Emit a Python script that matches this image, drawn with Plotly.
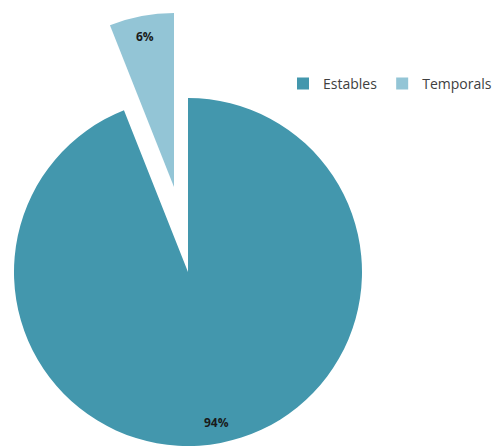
import math
import plotly.graph_objects as go

labels = ["Estables", "Temporals"]
values = [94, 6]
colors = ["#4397AD", "#93C5D6"]
pulled = "Temporals"

W, H = 497, 446
# pie geometry (pixels)
R = 174
main_c = (188, 272)
pull_c = (174, 187)
label_k = 0.878  # label distance along slice bisector, as a fraction of radius

def dom(c):
    cx, cy = c
    return dict(x=[max(0, (cx - R) / W), min(1, (cx + R) / W)],
                y=[max(0, 1 - (cy + R) / H), min(1, 1 - (cy - R) / H)])

transparent = "rgba(0,0,0,0)"
fig = go.Figure()

# legend-only carrier (tiny, hidden under the main pie)
fig.add_trace(go.Pie(labels=labels, values=values, sort=False, direction="clockwise",
                     marker=dict(colors=colors), textinfo="none", hoverinfo="skip",
                     domain=dict(x=[0.3, 0.3005], y=[0.3, 0.3005]), showlegend=True))

main_colors = [c if l != pulled else transparent for l, c in zip(labels, colors)]
fig.add_trace(go.Pie(labels=labels, values=values, sort=False, direction="clockwise",
                     marker=dict(colors=main_colors), textinfo="none",
                     domain=dom(main_c), showlegend=False))

pull_colors = [c if l == pulled else transparent for l, c in zip(labels, colors)]
fig.add_trace(go.Pie(labels=labels, values=values, sort=False, direction="clockwise",
                     marker=dict(colors=pull_colors), textinfo="none",
                     domain=dom(pull_c), showlegend=False))

# percentage labels placed along each slice's bisector
total = sum(values)
start = 0.0
annotations = []
for l, v in zip(labels, values):
    mid = (start + v / 2) / total * 2 * math.pi
    start += v
    cx, cy = pull_c if l == pulled else main_c
    px = cx + label_k * R * math.sin(mid)
    py = cy - label_k * R * math.cos(mid)
    annotations.append(dict(x=px / W, y=1 - py / H, xref="paper", yref="paper",
                            xanchor="center", yanchor="middle",
                            text=f"<b>{round(v / total * 100)}%</b>", showarrow=False,
                            font=dict(family="Open Sans", size=12, color="#1a1a1a")))

fig.update_layout(
    width=W, height=H, margin=dict(l=0, r=0, t=0, b=0),
    paper_bgcolor="white", plot_bgcolor="white",
    legend=dict(orientation="h", x=1, xanchor="right", y=0.848, yanchor="top",
                font=dict(family="Open Sans", size=14, color="#404040"),
                itemclick=False, itemdoubleclick=False),
    font=dict(family="Open Sans"),
    annotations=annotations,
)

fig.write_html("out.html", config={"displayModeBar": False},
               post_script="document.body.style.margin='0';document.body.style.overflow='hidden';")
